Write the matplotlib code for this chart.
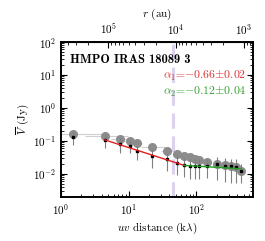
import numpy as np
import matplotlib
matplotlib.use("Agg")
import matplotlib.pyplot as plt

plt.rcParams['font.family'] = ['cmr10', 'DejaVu Serif']
plt.rcParams['mathtext.fontset'] = 'cm'
plt.rcParams['axes.formatter.use_mathtext'] = True
plt.rcParams['font.size'] = 8

# binned visibilities (uv distance in klambda)
uv = [1.5, 4.45, 7.5, 10.4, 13.3, 22.3, 37.5, 52, 66, 80, 95, 108, 145, 204, 264, 323, 391, 452]
# gray (upper) points
vis_gray = [0.163, 0.145, 0.115, 0.100, 0.085, 0.064, 0.051, 0.041, 0.035, 0.032, 0.0285,
            0.026, 0.0227, 0.020, 0.0187, 0.0178, 0.0166, 0.0126]
uv_lo = [1.0, 2.3, 5.5, 8.0, 11.0, 15.0, 30.0, 45.0, 58.0, 72.0, 88.0, 100.0, 130.0, 185.0, 240.0, 300.0, 360.0, 420.0]
uv_hi = [4.3, 9.7, 10.0, 12.5, 16.0, 35.0, 46.0, 60.0, 74.0, 90.0, 102.0, 118.0, 165.0, 225.0, 290.0, 350.0, 420.0, 480.0]
# black points with errors
vis = [0.135, 0.107, 0.081, 0.071, 0.049, 0.035, 0.0279, 0.022, 0.0187, 0.0179, 0.0179,
       0.0179, 0.0179, 0.0197, 0.0175, 0.0172, 0.0163, 0.0126]
vis_err = [0.059, 0.046, 0.038, 0.028, 0.022, 0.020, 0.016, 0.0127, 0.0106, 0.0108, 0.0108,
           0.0108, 0.0103, 0.013, 0.0118, 0.0119, 0.011, 0.0073]

# power law fits
alpha1, amp1, rng1 = -0.66, 0.287, (4.45, 66)
alpha2, amp2, rng2 = -0.12, 0.0298, (66, 452)
uv_break = 45
au_per_uv = 5.0e5

fig = plt.figure(figsize=(2.65, 2.41), dpi=100)
ax = fig.add_axes([0.230, 0.183, 0.725, 0.643])

uv_a = np.array(uv)
xerr = [uv_a - np.array(uv_lo), np.array(uv_hi) - uv_a]
ax.errorbar(uv, vis_gray, xerr=xerr, fmt='o', color='#8c8c8c', ms=5.5, ecolor='#d0d0d0',
            elinewidth=0.8, zorder=2)
ax.errorbar(uv, vis, yerr=vis_err, fmt='s', color='black', ms=1.8, ecolor='#808080',
            elinewidth=0.8, zorder=3)

x1 = np.geomspace(*rng1, 20)
ax.plot(x1, amp1 * x1 ** alpha1, color='#e02020', lw=1.0, zorder=4)
x2 = np.geomspace(*rng2, 20)
ax.plot(x2, amp2 * x2 ** alpha2, color='#20a020', lw=1.0, zorder=4)

ax.axvline(uv_break, color='#ddd2ee', lw=2.2, dashes=(5, 2.5), zorder=1)

ax.set_xscale('log')
ax.set_yscale('log')
ax.set_xlim(1, 690)
ax.set_ylim(2e-3, 100)
ax.set_xlabel(r'$uv$ distance (k$\lambda$)', labelpad=3)
ax.set_ylabel(r'$\overline{V}$ (Jy)', labelpad=1)
ax.tick_params(which='both', direction='in', right=True)
ax.tick_params(which='major', length=4, width=0.8)
ax.tick_params(which='minor', length=2, width=0.6)
for s in ax.spines.values():
    s.set_linewidth(1.4)

top = ax.secondary_xaxis('top', functions=(lambda x: au_per_uv / x, lambda x: au_per_uv / x))
top.set_xticks([1e5, 1e4, 1e3])
top.set_xlabel(r'$r$ (au)', labelpad=4)
top.tick_params(which='both', direction='in')
top.tick_params(which='major', length=4, width=0.8)
top.tick_params(which='minor', length=2, width=0.6)

ax.text(0.045, 0.925, 'HMPO IRAS 18089 3', transform=ax.transAxes, fontfamily='cmb10',
        fontsize=9, va='top', ha='left')
ax.text(0.965, 0.78, r'$\alpha_1$=$-$0.66$\pm$0.02', transform=ax.transAxes, color='#e03030',
        ha='right', va='center', fontsize=8.5)
ax.text(0.965, 0.675, r'$\alpha_2$=$-$0.12$\pm$0.04', transform=ax.transAxes, color='#30a030',
        ha='right', va='center', fontsize=8.5)

fig.savefig('out.png', dpi=100)
